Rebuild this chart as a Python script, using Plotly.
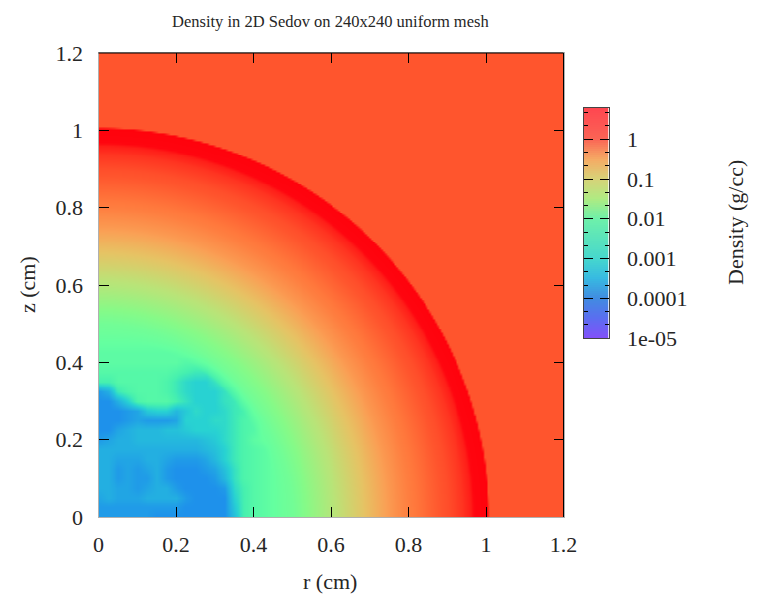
import numpy as np
import plotly.graph_objects as go

TITLE = "Density in 2D Sedov on 240x240 uniform mesh"
X_LABEL = "r (cm)"
Y_LABEL = "z (cm)"
BAR_LABEL = "Density (g/cc)"
X_TICKS = [0, 0.2, 0.4, 0.6, 0.8, 1, 1.2]
Y_TICKS = [0, 0.2, 0.4, 0.6, 0.8, 1, 1.2]
CB_TICKS = [-5, -4, -3, -2, -1, 0]
CB_LABELS = ["1e-05", "0.0001", "0.001", "0.01", "0.1", "1"]

# log10(density) against radius
PROFILE_R = [0.0, 0.40, 0.50, 0.55, 0.60, 0.65, 0.70, 0.75, 0.80, 0.85, 0.90, 0.94, 0.96, 0.968, 1.004, 1.007, 1.70]
PROFILE_LOG = [-2.3, -2.3, -2.0, -1.6, -1.25, -0.98, -0.72, -0.45, -0.25, -0.1, 0.05, 0.25, 0.45, 0.7, 0.75, 0.0, 0.0]

# log10(density) x 10 in the turbulent core
# rows: z = 0, 0.025 ... 0.5; columns: r = 0, 0.025 ... 0.5
CORE_TENTHS = [
    [-36,-36,-36,-36,-36,-36,-37,-37,-37,-37,-37,-37,-37,-37,-32,-26,-24,-23,-22,-21,-20],
    [-36,-36,-36,-36,-36,-36,-36,-36,-36,-37,-37,-37,-37,-37,-31,-26,-24,-23,-22,-21,-20],
    [-35,-34,-35,-35,-35,-34,-34,-34,-34,-36,-37,-37,-37,-37,-30,-26,-24,-23,-22,-21,-20],
    [-34,-34,-35,-35,-36,-35,-34,-34,-36,-37,-37,-37,-37,-36,-29,-26,-24,-23,-22,-21,-20],
    [-34,-34,-36,-35,-36,-36,-34,-36,-37,-37,-37,-37,-36,-33,-28,-25,-24,-23,-22,-21,-20],
    [-34,-34,-36,-35,-36,-35,-34,-36,-37,-37,-37,-36,-35,-32,-28,-25,-24,-23,-22,-21,-20],
    [-34,-34,-35,-35,-35,-34,-34,-35,-36,-36,-36,-35,-33,-30,-27,-25,-24,-23,-22,-21,-20],
    [-34,-34,-34,-34,-34,-34,-34,-34,-34,-34,-34,-33,-32,-30,-27,-25,-24,-23,-22,-21,-20],
    [-36,-35,-34,-34,-33,-33,-33,-33,-33,-33,-33,-32,-31,-29,-27,-25,-23,-22,-22,-21,-20],
    [-37,-37,-35,-34,-33,-33,-33,-32,-32,-31,-30,-30,-30,-29,-27,-25,-24,-22,-22,-21,-20],
    [-37,-37,-37,-36,-35,-36,-36,-36,-35,-30,-30,-30,-29,-29,-27,-25,-24,-23,-22,-21,-20],
    [-37,-37,-37,-36,-35,-31,-30,-30,-33,-31,-29,-30,-30,-29,-27,-26,-24,-23,-22,-21,-20],
    [-37,-37,-34,-30,-25,-24,-24,-24,-26,-28,-30,-30,-30,-28,-27,-25,-24,-23,-22,-21,-20],
    [-36,-34,-27,-25,-24,-24,-24,-25,-27,-29,-30,-30,-30,-28,-26,-24,-23,-22,-21,-21,-20],
    [-26,-26,-24,-24,-24,-24,-24,-25,-27,-29,-30,-30,-28,-26,-25,-24,-23,-22,-21,-20,-20],
    [-24,-24,-24,-24,-24,-24,-24,-24,-25,-26,-27,-27,-26,-25,-24,-23,-22,-21,-20,-20,-20],
    [-23,-23,-23,-23,-23,-23,-23,-23,-23,-24,-24,-24,-24,-23,-22,-22,-21,-20,-20,-20,-20],
    [-23,-23,-23,-23,-23,-23,-23,-23,-23,-23,-23,-23,-23,-22,-21,-21,-20,-20,-20,-20,-20],
    [-22,-22,-22,-22,-22,-22,-22,-22,-22,-22,-22,-22,-22,-21,-21,-20,-20,-20,-20,-20,-20],
    [-21,-21,-21,-21,-21,-21,-21,-21,-21,-21,-21,-21,-21,-21,-20,-20,-20,-20,-20,-20,-20],
    [-20,-20,-20,-20,-20,-20,-20,-20,-20,-20,-20,-20,-20,-20,-20,-20,-20,-20,-20,-20,-20],
]

FIELD_SCALE = [
    (-5.0, "rgb(125,80,255)"), (-4.0, "rgb(50,125,240)"), (-3.8, "rgb(25,135,240)"),
    (-3.7, "rgb(30,145,235)"), (-3.4, "rgb(35,175,225)"), (-3.0, "rgb(40,210,210)"),
    (-2.6, "rgb(70,240,175)"), (-2.2, "rgb(100,255,160)"), (-1.7, "rgb(135,250,135)"),
    (-1.2, "rgb(185,228,120)"), (-0.8, "rgb(230,195,100)"), (-0.5, "rgb(250,160,85)"),
    (-0.2, "rgb(255,120,60)"), (0.0, "rgb(255,85,45)"), (0.3, "rgb(255,45,30)"),
    (0.7, "rgb(255,5,15)"), (0.786, "rgb(255,0,10)"),
]
BAR_SCALE = [
    (-5.0, "rgb(130,80,250)"), (-4.5, "rgb(90,110,240)"), (-4.0, "rgb(65,140,225)"),
    (-3.5, "rgb(55,185,225)"), (-3.0, "rgb(70,215,205)"), (-2.0, "rgb(110,240,170)"),
    (-1.5, "rgb(175,235,130)"), (-1.0, "rgb(215,210,120)"), (-0.5, "rgb(245,170,100)"),
    (0.0, "rgb(250,100,85)"), (0.786, "rgb(255,70,80)"),
]
VMIN, VMAX = -5.0, 0.786


def norm(scale):
    return [[(v - VMIN) / (VMAX - VMIN), c] for v, c in scale]


# 240 x 240 cells, as the mesh in the title (241 nodes so the smoothed image fills the frame)
nodes = np.arange(241) * 0.005
rr, zz = np.meshgrid(nodes, nodes)
radius = np.hypot(rr, zz)
base = np.interp(radius, PROFILE_R, PROFILE_LOG)

core = np.array(CORE_TENTHS) / 10.0
step = 0.025
fr = np.clip(rr / step, 0, core.shape[1] - 1.001)
fz = np.clip(zz / step, 0, core.shape[0] - 1.001)
i0, j0 = fz.astype(int), fr.astype(int)
tz, tr = fz - i0, fr - j0
core_fine = (core[i0, j0] * (1 - tz) * (1 - tr) + core[i0, j0 + 1] * (1 - tz) * tr
             + core[i0 + 1, j0] * tz * (1 - tr) + core[i0 + 1, j0 + 1] * tz * tr)
weight = np.clip((0.5 - radius) / 0.04, 0, 1)
field = weight * core_fine + (1 - weight) * base

bar_levels = np.linspace(VMIN, VMAX, 116)

W, H = 761, 606
L, R, T, B = 98.5, 563.5, 53, 517
BL, BR, BT, BB = 583.5, 608.5, 108, 338
INK = "#262626"
SERIF = "Liberation Serif"

fig = go.Figure()
fig.add_trace(go.Heatmap(x=nodes, y=nodes, z=field, zmin=VMIN, zmax=VMAX, zsmooth="best",
                         colorscale=norm(FIELD_SCALE), showscale=False,
                         xaxis="x", yaxis="y", hoverinfo="skip"))
fig.add_trace(go.Heatmap(x=[0], y=bar_levels, z=bar_levels[:, None], zmin=VMIN, zmax=VMAX,
                         colorscale=norm(BAR_SCALE), showscale=False,
                         xaxis="x2", yaxis="y2", hoverinfo="skip"))

main_axis = dict(range=[0, 1.2], tickmode="array", ticks="inside", ticklen=10, tickwidth=1,
                 tickcolor="black", showgrid=False, zeroline=False, showline=True,
                 linecolor="#b0b0b0", linewidth=1, mirror="ticks", automargin=False,
                 tickfont=dict(family=SERIF, size=22, color=INK))


def label(text, x, y, size=22, angle=0):
    return dict(text=text, xref="paper", yref="paper", x=x / W, y=1 - y / H, showarrow=False,
                textangle=angle, xanchor="center", yanchor="middle",
                font=dict(family=SERIF, size=size, color=INK))


fig.update_layout(
    width=W, height=H, margin=dict(l=0, r=0, t=0, b=0),
    paper_bgcolor="white", plot_bgcolor="white", showlegend=False,
    xaxis=dict(main_axis, domain=[L / W, R / W], tickvals=X_TICKS, ticktext=[str(v) for v in X_TICKS],
               anchor="y", ticklabelstandoff=8),
    yaxis=dict(main_axis, domain=[(H - B) / H, (H - T) / H], tickvals=Y_TICKS,
               ticktext=[str(v) for v in Y_TICKS], anchor="x", ticklabelstandoff=10),
    xaxis2=dict(domain=[BL / W, BR / W], anchor="y2", showticklabels=False, ticks="",
                showgrid=False, zeroline=False, showline=True, linecolor="#444444", mirror=True,
                range=[-0.5, 0.5], automargin=False),
    yaxis2=dict(domain=[(H - BB) / H, (H - BT) / H], anchor="x2", side="right", range=[VMIN, VMAX],
                tickmode="array", tickvals=CB_TICKS, ticktext=CB_LABELS, ticks="inside", ticklen=9,
                tickcolor="black", showgrid=False, zeroline=False, showline=True,
                linecolor="#444444", mirror="ticks", ticklabelstandoff=13, automargin=False,
                minor=dict(tickmode="array", ticks="inside", ticklen=4, tickcolor="black",
                           tickvals=[d + f for d in range(-5, 1) for f in (1 / 3, 2 / 3)]),
                tickfont=dict(family=SERIF, size=22, color=INK)),
    annotations=[
        label(TITLE, 330.5, 21, size=16.5),
        label(X_LABEL, 330, 581),
        label(Y_LABEL, 27, 285, angle=-90),
        label(BAR_LABEL, 736, 223, angle=-90),
    ],
    shapes=[
        dict(type="line", xref="paper", yref="paper", x0=L / W, x1=R / W, y0=1 - T / H, y1=1 - T / H,
             line=dict(color="black", width=1)),
        dict(type="line", xref="paper", yref="paper", x0=R / W, x1=R / W, y0=1 - T / H, y1=1 - B / H,
             line=dict(color="black", width=1)),
    ],
)
fig.write_html("out.html", post_script="document.body.style.margin='0';",
               config=dict(displayModeBar=False))
